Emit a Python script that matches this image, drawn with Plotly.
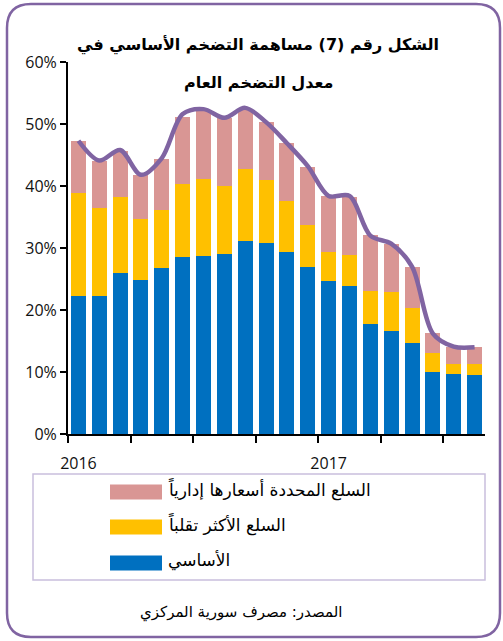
import plotly.graph_objects as go

# ---- data (percent) ----
months = ["2016-01", "2016-02", "2016-03", "2016-04", "2016-05", "2016-06", "2016-07",
          "2016-08", "2016-09", "2016-10", "2016-11", "2016-12", "2017-01", "2017-02",
          "2017-03", "2017-04", "2017-05", "2017-06", "2017-07", "2017-08"]
core = [22.3, 22.3, 25.9, 24.9, 26.7, 28.5, 28.7, 29.0, 31.1, 30.8,
        29.4, 26.9, 24.7, 23.8, 17.7, 16.6, 14.7, 10.0, 9.7, 9.5]
volatile = [16.5, 14.1, 12.4, 9.7, 9.5, 11.8, 12.4, 11.0, 11.6, 10.1,
            8.2, 6.8, 4.6, 5.0, 5.4, 6.3, 5.7, 3.0, 1.6, 1.8]
administered = [8.5, 7.7, 7.4, 7.2, 8.2, 10.8, 11.1, 11.0, 9.8, 9.4,
                9.3, 9.4, 9.1, 9.5, 9.0, 7.8, 6.6, 3.3, 2.7, 2.7]
headline = [47.3, 44.1, 45.8, 41.8, 44.5, 51.6, 52.4, 51.0, 52.6, 50.3,
            46.9, 43.2, 38.4, 38.4, 32.0, 30.7, 27.0, 16.2, 14.1, 14.0]
year_ticks = [0, 12]
year_labels = ["2016", "2017"]
boundary_ticks = [-0.5, 2.5, 5.5, 8.5, 11.5, 14.5, 17.5]

series_names = ["الأساسي", "السلع الأكثر تقلباً", "السلع المحددة أسعارها إدارياً"]
colors = ["#0070C0", "#FFC000", "#D99694"]
line_color = "#8064A2"
title_lines = ["الشكل رقم (7) مساهمة التضخم الأساسي في", "معدل التضخم العام"]
source_text = "المصدر: مصرف سورية المركزي"

W, H = 503, 641
L, R, T, B = 68, 18, 62, 207
PW, PH = W - L - R, H - T - B


def px(x):
    return (x - L) / PW


def py(y):
    return (H - B - y) / PH


x = list(range(len(months)))
fig = go.Figure()
for vals, name, col in zip([core, volatile, administered], series_names, colors):
    fig.add_trace(go.Bar(x=x, y=vals, name=name, marker=dict(color=col, line=dict(width=0)),
                         showlegend=False))
fig.add_trace(go.Scatter(x=x, y=headline, mode="lines",
                         line=dict(color=line_color, width=4.5, shape="spline", smoothing=0.9),
                         showlegend=False, name="التضخم العام"))

ARFONT = "DejaVu Sans"
fig.update_layout(
    width=W, height=H, margin=dict(l=L, r=R, t=T, b=B, autoexpand=False),
    barmode="stack", bargap=0.28,
    paper_bgcolor="white", plot_bgcolor="white",
    xaxis=dict(range=[-0.5, 19.5], tickmode="array", tickvals=year_ticks, ticktext=year_labels,
               ticks="outside", ticklen=14, tickcolor="rgba(0,0,0,0)",
               showline=True, linecolor="black", linewidth=2, showgrid=False, zeroline=False,
               tickfont=dict(family="Open Sans", size=16, color="#111"),
               minor=dict(tickmode="array", tickvals=boundary_ticks, ticks="outside", ticklen=7,
                          tickwidth=2, tickcolor="black", showgrid=False)),
    yaxis=dict(range=[0, 60], dtick=10, ticksuffix="%", showgrid=False, zeroline=False,
               showline=True, linecolor="black", linewidth=2, ticks="outside", ticklen=6,
               tickwidth=1.5, tickcolor="black",
               tickfont=dict(family="Open Sans", size=16, color="#111")),
)


def note(xp, yp, text, size, xanchor="center", bold=False):
    fig.add_annotation(x=px(xp), y=py(yp), xref="paper", yref="paper",
                       text=("<b>" + text + "</b>") if bold else text,
                       showarrow=False, xanchor=xanchor, yanchor="middle",
                       font=dict(family=ARFONT, size=size, color="black"))


# title
note(258, 45, title_lines[0], 16, bold=True)
note(258, 83, title_lines[1], 16, bold=True)

# source
note(241, 612, source_text, 15)

# legend box
fig.add_shape(type="rect", xref="paper", yref="paper", x0=px(33), x1=px(485), y0=py(474), y1=py(580),
              line=dict(color="#C9BFDD", width=1.5), fillcolor="rgba(0,0,0,0)")
legend_rows = [(2, 492), (1, 527), (0, 563)]
for idx, yc in legend_rows:
    fig.add_shape(type="rect", xref="paper", yref="paper", x0=px(110), x1=px(162),
                  y0=py(yc - 7.5), y1=py(yc + 7.5), line=dict(width=0), fillcolor=colors[idx])
    note(166, yc - 3, series_names[idx], 17, xanchor="left")

# rounded outer frame
x0, y0, x1, y1, r = 7, 4, 500, 637, 24


def P(a, b):
    return f"{px(a):.5f},{py(b):.5f}"


path = (f"M {P(x0 + r, y0)} L {P(x1 - r, y0)} Q {P(x1, y0)} {P(x1, y0 + r)} "
        f"L {P(x1, y1 - r)} Q {P(x1, y1)} {P(x1 - r, y1)} L {P(x0 + r, y1)} "
        f"Q {P(x0, y1)} {P(x0, y1 - r)} L {P(x0, y0 + r)} Q {P(x0, y0)} {P(x0 + r, y0)} Z")
fig.add_shape(type="path", xref="paper", yref="paper", path=path, line=dict(color=line_color, width=2.5))

fig.write_html("out.html", config={"displayModeBar": False},
               post_script="document.body.style.margin='0px';")
